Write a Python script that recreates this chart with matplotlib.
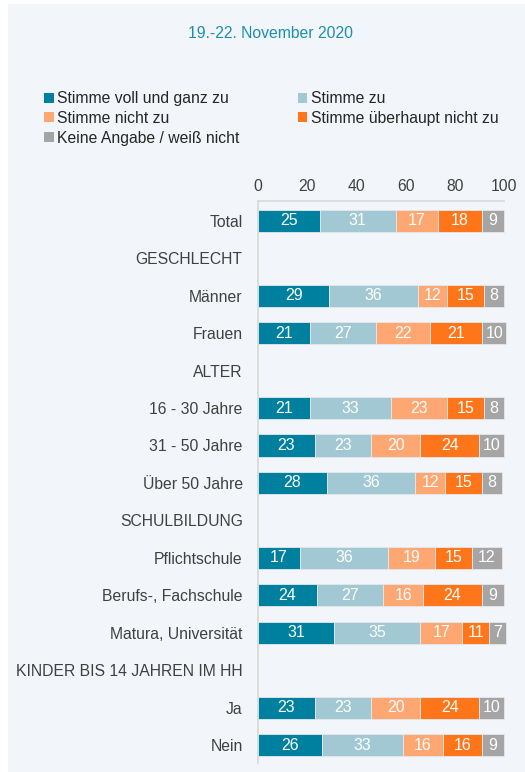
#
# Stacked horizontal bars : survey 19.-22. November 2020
#
import matplotlib.pyplot as plt
from matplotlib.patches import Rectangle, Patch
#
plt.rcParams['font.family'] = ['Liberation Sans', 'DejaVu Sans']
#
# --------------------------------------------------------------------- #
# Data
categories = ["Total", "GESCHLECHT", "Männer", "Frauen", "ALTER",
              "16 - 30 Jahre", "31 - 50 Jahre", "Über 50 Jahre",
              "SCHULBILDUNG", "Pflichtschule", "Berufs-, Fachschule",
              "Matura, Universität", "KINDER BIS 14 JAHREN IM HH", "Ja", "Nein"]
series_names = ["Stimme voll und ganz zu", "Stimme zu", "Stimme nicht zu",
                "Stimme überhaupt nicht zu", "Keine Angabe / weiß nicht"]
# None = header row without bar
voll = [25, None, 29, 21, None, 21, 23, 28, None, 17, 24, 31, None, 23, 26]
zu = [31, None, 36, 27, None, 33, 23, 36, None, 36, 27, 35, None, 23, 33]
nicht = [17, None, 12, 22, None, 23, 20, 12, None, 19, 16, 17, None, 20, 16]
ueberhaupt = [18, None, 15, 21, None, 15, 24, 15, None, 15, 24, 11, None, 24, 16]
keine = [9, None, 8, 10, None, 8, 10, 8, None, 12, 9, 7, None, 10, 9]
ticks = [0, 20, 40, 60, 80, 100]
#
colors = ["#00809F", "#A2C9D3", "#FFA772", "#FF761A", "#A5A5A5"]
#
# --------------------------------------------------------------------- #
# Figure
fig = plt.figure(figsize=(5.25, 7.72), dpi=100)
fig.patch.set_facecolor("white")
fig.patches.append(Rectangle((8 / 525, 0), 1, 1 - 4 / 772, transform=fig.transFigure,
                             facecolor="#F2F5F9", edgecolor="none", zorder=-1))
#
ax = fig.add_axes([258 / 525, 1 - 763 / 772, 246 / 525, (763 - 201) / 772])
ax.set_facecolor("none")
#
all_series = [voll, zu, nicht, ueberhaupt, keine]
for i in range(len(categories)):
    left = 0
    for s, col in zip(all_series, colors):
        v = s[i]
        if v is None:
            continue
        ax.barh(i, v, left=left, height=0.59, color=col, edgecolor="#E4E8EC",
                linewidth=0.6, clip_on=False)
        ax.text(left + v / 2, i, str(v), ha="center", va="center",
                color="white", fontsize=11.5)
        left += v
#
ax.set_xlim(0, 100)
ax.set_ylim(len(categories) - 1 + 0.48, -0.53)
ax.set_yticks(range(len(categories)))
ax.set_yticklabels(categories, fontsize=11.3, color="#404040")
ax.set_xticks(ticks)
ax.set_xticklabels([str(t) for t in ticks], fontsize=11.3, color="#404040")
ax.xaxis.tick_top()
ax.tick_params(axis="y", length=0, pad=11)
ax.tick_params(axis="x", length=0, pad=5)
for side in ["right", "bottom"]:
    ax.spines[side].set_visible(False)
for side in ["left", "top"]:
    ax.spines[side].set_color("#D9D9D9")
    ax.spines[side].set_linewidth(1.2)
#
# --------------------------------------------------------------------- #
# Title and legend (column-wise fill -> reorder so rows read left to right)
fig.text(270 / 525, 1 - 33 / 772, "19.-22. November 2020", ha="center", va="center",
         color="#1C8FB0", fontsize=11.3)
handles = [Patch(facecolor=c, edgecolor="none") for c in colors]
order = [0, 2, 4, 1, 3]
fig.legend([handles[k] for k in order], [series_names[k] for k in order],
           ncol=2, loc="upper left",
           bbox_to_anchor=(30 / 525, 1 - 77 / 772), frameon=False,
           fontsize=11.3, handlelength=0.6, handleheight=0.6, handletextpad=0.25,
           columnspacing=3.7, labelspacing=0.3, labelcolor="#262626")
#
plt.savefig("out.png", dpi=100, facecolor=fig.get_facecolor())
